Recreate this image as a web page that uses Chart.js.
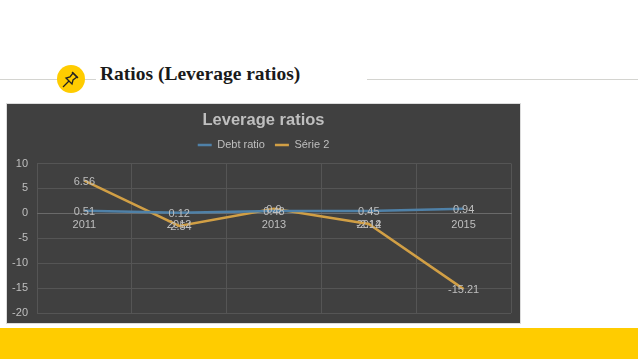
<!DOCTYPE html>
<html>
<head>
<meta charset="utf-8">
<script src="https://cdn.jsdelivr.net/npm/chart.js@4"></script>
<style>
    html, body { margin: 0; padding: 0; background: #fff; overflow: hidden; }
    body { position: relative; width: 638px; height: 359px; }
    .linea { position: absolute; top: 79px; height: 1px; background: #d4d4d0; }
    .circulo { position: absolute; left: 57px; top: 65px; width: 28px; height: 28px; border-radius: 50%; background: #ffcc00; }
    .circulo svg { position: absolute; left: 5px; top: 5px; }
    h1 { position: absolute; left: 100px; top: 63px; margin: 0; font: bold 19.5px "Liberation Serif", serif; color: #1a1a1a; white-space: nowrap; }
    .panel { position: absolute; left: 7px; top: 104px; width: 513px; height: 219px; background: #404040; box-shadow: 0 0 0 1px #dcdcdc; }
    .franja { position: absolute; left: 0; top: 328px; width: 638px; height: 31px; background: #ffcc00; }
</style>
</head>
<body>
    <div class="linea" style="left:0;width:96px"></div>
    <div class="linea" style="left:367px;width:271px"></div>
    <div class="circulo">
        <svg width="18" height="18" viewBox="0 0 18 18" fill="none" stroke="#222" stroke-width="1.3">
            <path d="M1 17 L7 11"/>
            <path d="M4 8 L10 14 L11 10 L15 7 L11 3 L8 7 Z" fill="#ffcc00"/>
            <path d="M10 2 L16 8"/>
        </svg>
    </div>
    <h1>Ratios (Leverage ratios)</h1>
    <div class="panel"><canvas id="grafico" width="513" height="219"></canvas></div>
    <div class="franja"></div>

<script>
// datos
const anios = ['2011', '2012', '2013', '2014', '2015'];
const debtRatio = [0.51, 0.12, 0.48, 0.45, 0.94];
const serie2 = [6.56, -2.54, 0.9, -2.12, -15.21];
const nombres = ['Debt ratio', 'Série 2'];
const marcasY = [10, 5, 0, -5, -10, -15, -20];

const gris = '#bfbfbf';
Chart.defaults.font.family = '"Liberation Sans", Arial, sans-serif';

// etiquetas de valor centradas sobre cada punto
const etiquetas = {
    id: 'etiquetas',
    afterDatasetsDraw(chart) {
        const ctx = chart.ctx;
        ctx.save();
        ctx.font = '11px "Liberation Sans", Arial, sans-serif';
        ctx.fillStyle = gris;
        ctx.textAlign = 'center';
        ctx.textBaseline = 'middle';
        chart.data.datasets.forEach((serie, i) => {
            chart.getDatasetMeta(i).data.forEach((punto, j) => {
                ctx.fillText(serie.data[j], punto.x, punto.y + 1);
            });
        });
        ctx.restore();
    }
};

// un poco mas de aire debajo de la leyenda
const aireLeyenda = {
    id: 'aireLeyenda',
    beforeInit(chart) {
        const fitOriginal = chart.legend.fit;
        chart.legend.fit = function () {
            fitOriginal.call(this);
            this.height += 3;
        };
    }
};

new Chart(document.getElementById('grafico'), {
    type: 'line',
    data: {
        labels: anios,
        datasets: [
            { label: nombres[0], data: debtRatio, borderColor: '#4f81a8', backgroundColor: '#4f81a8', borderWidth: 2.5, pointRadius: 0, tension: 0 },
            { label: nombres[1], data: serie2, borderColor: '#d19f45', backgroundColor: '#d19f45', borderWidth: 2.5, pointRadius: 0, tension: 0 }
        ]
    },
    options: {
        responsive: false,
        animation: false,
        layout: { padding: { left: 0, right: 0, top: 5, bottom: 10 } },
        plugins: {
            title: { display: true, text: 'Leverage ratios', color: gris, font: { size: 16.5, weight: 'bold', lineHeight: 1 }, padding: { top: 3, bottom: 1 } },
            legend: {
                display: true,
                labels: { color: gris, font: { size: 11 }, usePointStyle: true, pointStyle: 'line', pointStyleWidth: 14, boxHeight: 8, padding: 10 }
            },
            tooltip: { enabled: false }
        },
        scales: {
            x: {
                position: { y: 0 },
                offset: true,
                afterFit(eje) { eje.height = 0; },
                grid: { color: '#555555', offset: true, drawTicks: false },
                border: { color: '#6a6a6a' },
                ticks: { color: gris, font: { size: 11 }, padding: 5, maxRotation: 0 }
            },
            y: {
                min: -20,
                max: 10,
                afterBuildTicks(eje) { eje.ticks = marcasY.map(v => ({ value: v })); },
                // el padding de los ticks no debe encoger el area del grafico
                afterFit(eje) { eje.width = 30; eje.paddingTop = 0; eje.paddingBottom = 0; },
                grid: { color: '#555555', drawTicks: false },
                border: { display: false },
                ticks: { color: gris, font: { size: 11 }, padding: 9 }
            },
            // eje vacio a la derecha, deja el margen sin descentrar titulo y leyenda
            margen: {
                type: 'linear',
                position: 'right',
                afterFit(eje) { eje.width = 9; },
                grid: { display: false },
                border: { display: false },
                ticks: { display: false }
            }
        }
    },
    plugins: [etiquetas, aireLeyenda]
});
</script>
</body>
</html>
